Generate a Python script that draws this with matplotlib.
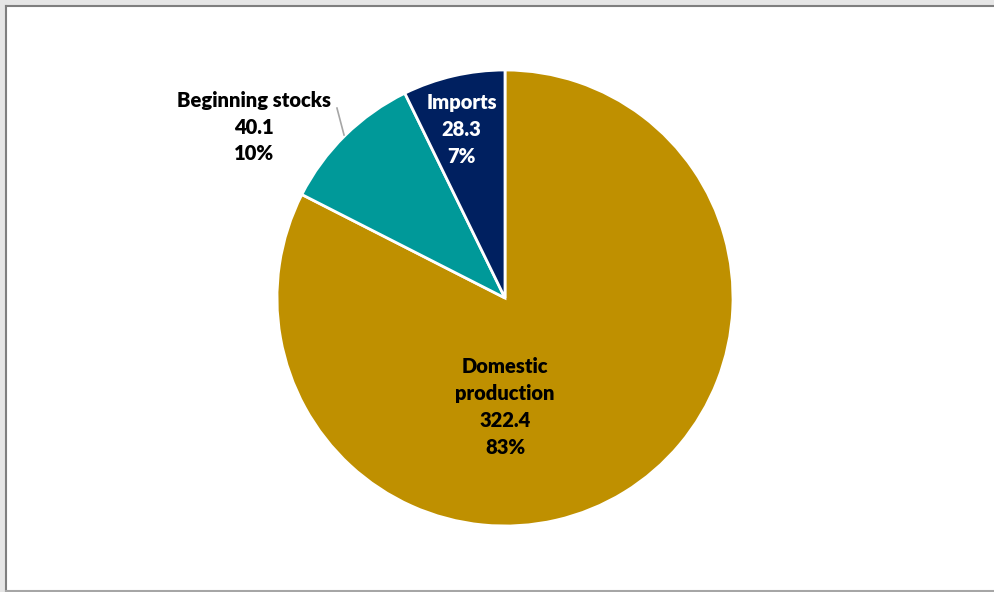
import matplotlib
matplotlib.use('Agg')
from matplotlib import pyplot as plt
from matplotlib.patches import Rectangle
from matplotlib.lines import Line2D

labels = ['Domestic\nproduction', 'Beginning stocks', 'Imports']
values = [322.4, 40.1, 28.3]
pct_labels = ['83%', '10%', '7%']
colors = ['#BF9000', '#009999', '#002060']
text_colors = ['black', 'black', 'white']

plt.rcParams['font.family'] = ['Lato', 'DejaVu Sans']

fig = plt.figure(figsize=(9.95, 5.92), dpi=100)
fig.patch.set_facecolor('white')

# frame like the original screenshot
fig.patches.append(Rectangle((0, 1 - 5/592), 1, 5/592, transform=fig.transFigure,
                             facecolor='#e6e6e6', edgecolor='none', zorder=0))
fig.patches.append(Rectangle((0, 0), 6/995, 1, transform=fig.transFigure,
                             facecolor='#e6e6e6', edgecolor='none', zorder=0))
fig.lines.append(Line2D([6.5/995, 1], [1 - 5.5/592, 1 - 5.5/592], transform=fig.transFigure,
                        color='#7f7f7f', lw=1.5))
fig.lines.append(Line2D([6.5/995, 6.5/995], [1.5/592, 1 - 5.5/592], transform=fig.transFigure,
                        color='#7f7f7f', lw=1.5))
fig.lines.append(Line2D([6.5/995, 1], [1.5/592, 1.5/592], transform=fig.transFigure,
                        color='#a6a6a6', lw=1.5))

ax = fig.add_axes([277/995, 66/592, 456/995, 456/592])
wedges, _ = ax.pie(values, colors=colors, startangle=90, counterclock=False,
                   radius=1, wedgeprops=dict(edgecolor='white', linewidth=2))
ax.set_xlim(-1, 1)
ax.set_ylim(-1, 1)
ax.set_aspect('equal')
ax.axis('off')

positions = [(0, -0.48), (-1.10, 0.75), (-0.19, 0.74)]

for lab, v, p, pos, tc in zip(labels, values, pct_labels, positions, text_colors):
    ax.text(pos[0], pos[1], f'{lab}\n{v:.1f}\n{p}', ha='center', va='center',
            fontsize=14.5, fontweight='heavy', color=tc, linespacing=1.5,
            clip_on=False)

# leader line for beginning stocks
ax.plot([-0.737, -0.706], [0.833, 0.715], color='#a6a6a6', lw=1.2, clip_on=False)

fig.savefig('out.png', dpi=100)
